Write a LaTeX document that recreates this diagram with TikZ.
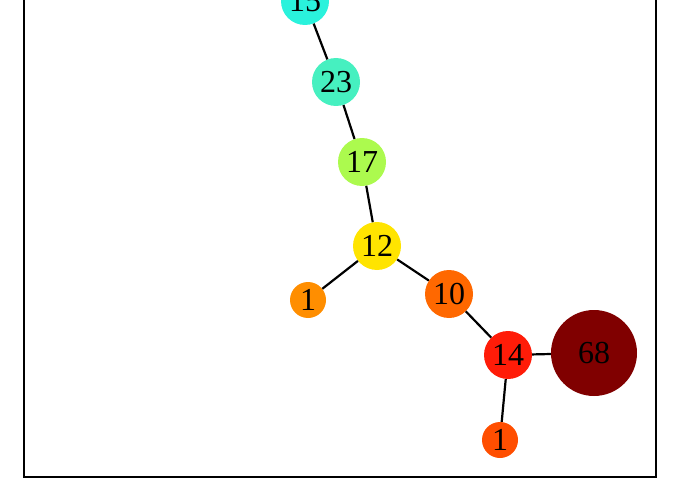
\documentclass[tikz,border=0pt]{standalone}
\usepackage{fontspec}
\setmainfont{Liberation Serif}
\definecolor{c15}{RGB}{42,242,220}
\definecolor{c23}{RGB}{70,240,192}
\definecolor{c17}{RGB}{172,250,78}
\definecolor{c12}{RGB}{255,228,0}
\definecolor{c1a}{RGB}{255,142,0}
\definecolor{c10}{RGB}{255,104,0}
\definecolor{c1b}{RGB}{255,78,0}
\definecolor{c14}{RGB}{255,28,8}
\definecolor{c68}{RGB}{128,0,0}
\tikzset{
  vtx/.style={circle, inner sep=0pt, minimum size=#1, text=black, font=\fontsize{32}{32}\selectfont},
  lnk/.style={draw=black, line width=2.2pt}
}
\begin{document}
\begin{tikzpicture}[x=1pt,y=-1pt]
\useasboundingbox (0,0) rectangle (680,500);
\clip (0,0) rectangle (680,500);
\draw[line width=2.4pt] (24,-10) -- (24,477) -- (656,477) -- (656,-10);
\node[vtx=48pt, fill=c15] (n15) at (305,1) {15};
\node[vtx=48pt, fill=c23] (n23) at (336,82) {23};
\node[vtx=48pt, fill=c17] (n17) at (362,162) {17};
\node[vtx=48pt, fill=c12] (n12) at (377,246) {12};
\node[vtx=36pt, fill=c1a] (n1a) at (308,300) {1};
\node[vtx=48pt, fill=c10] (n10) at (449,294) {10};
\node[vtx=48pt, fill=c14] (n14) at (508,355) {14};
\node[vtx=86pt, fill=c68] (n68) at (594,353) {68};
\node[vtx=36pt, fill=c1b] (n1b) at (500,440) {1};
\draw[lnk] (n15) -- (n23);
\draw[lnk] (n23) -- (n17);
\draw[lnk] (n17) -- (n12);
\draw[lnk] (n12) -- (n1a);
\draw[lnk] (n12) -- (n10);
\draw[lnk] (n10) -- (n14);
\draw[lnk] (n14) -- (n68);
\draw[lnk] (n14) -- (n1b);
\end{tikzpicture}
\end{document}
